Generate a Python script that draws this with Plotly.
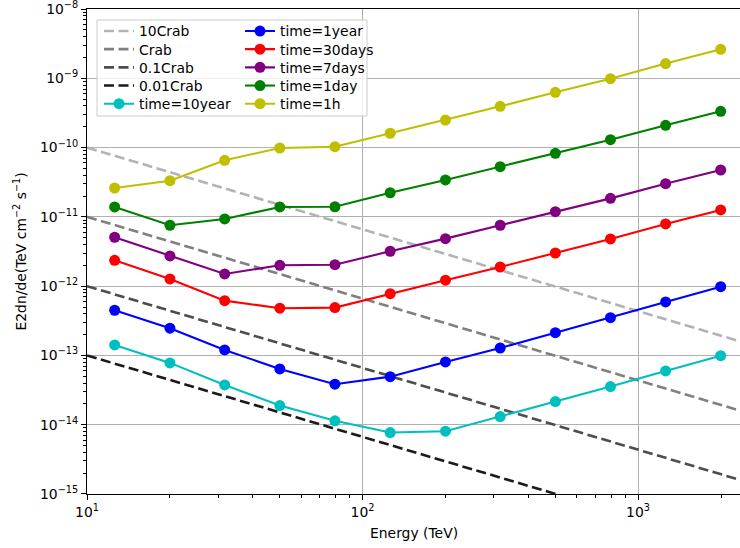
import plotly.graph_objects as go

# ---- data ----
energy = [12.6, 20.0, 31.6, 50.1, 79.4, 126, 200, 316, 501, 794, 1259, 1995]

sens_10year = [1.42e-13, 7.8e-14, 3.75e-14, 1.89e-14, 1.14e-14, 7.7e-15, 8.05e-15,
               1.31e-14, 2.16e-14, 3.55e-14, 5.97e-14, 9.93e-14]
sens_1year = [4.49e-13, 2.47e-13, 1.20e-13, 6.38e-14, 3.84e-14, 4.94e-14, 8.05e-14,
              1.28e-13, 2.13e-13, 3.51e-13, 5.92e-13, 9.84e-13]
sens_30days = [2.36e-12, 1.27e-12, 6.18e-13, 4.80e-13, 4.90e-13, 7.80e-13, 1.22e-12,
               1.89e-12, 3.01e-12, 4.80e-12, 7.91e-12, 1.26e-11]
sens_7days = [5.08e-12, 2.73e-12, 1.50e-12, 2.00e-12, 2.04e-12, 3.19e-12, 4.85e-12,
              7.57e-12, 1.19e-11, 1.85e-11, 3.01e-11, 4.75e-11]
sens_1day = [1.39e-11, 7.57e-12, 9.33e-12, 1.39e-11, 1.40e-11, 2.23e-11, 3.41e-11,
             5.30e-11, 8.27e-11, 1.30e-10, 2.10e-10, 3.34e-10]
sens_1h = [2.61e-11, 3.33e-11, 6.56e-11, 9.87e-11, 1.03e-10, 1.61e-10, 2.50e-10,
           3.94e-10, 6.28e-10, 9.87e-10, 1.63e-9, 2.62e-9]

# Crab reference lines (straight power laws in log-log): start and end points
crab_names = ["10Crab", "Crab", "0.1Crab", "0.01Crab"]
crab_start_energy = [10.0, 10.0, 10.0, 10.0]
crab_start_flux = [1.0e-10, 1.0e-11, 1.0e-12, 1.0e-13]
crab_end_energy = [2500.0, 2500.0, 2500.0, 503.0]
crab_end_flux = [1.48e-13, 1.48e-14, 1.48e-15, 1.0e-15]
crab_colors = ["#b3b3b3", "#808080", "#4d4d4d", "#1a1a1a"]

series_names = ["time=10year", "time=1year", "time=30days", "time=7days", "time=1day", "time=1h"]
series_values = [sens_10year, sens_1year, sens_30days, sens_7days, sens_1day, sens_1h]
series_colors = ["#00bfbf", "#0000ff", "#ff0000", "#800080", "#008000", "#bfbf00"]

y_tick_vals = [1e-15, 1e-14, 1e-13, 1e-12, 1e-11, 1e-10, 1e-9, 1e-8]
y_tick_text = ["10<sup>−15</sup>", "10<sup>−14</sup>", "10<sup>−13</sup>", "10<sup>−12</sup>",
               "10<sup>−11</sup>", "10<sup>−10</sup>", "10<sup>−9</sup>", "10<sup>−8</sup>"]
x_tick_vals = [10, 100, 1000]
x_tick_text = ["10<sup>1</sup>", "10<sup>2</sup>", "10<sup>3</sup>"]

x_minor_vals = [m * d for d in (10, 100, 1000) for m in range(2, 10) if m * d < 2400]
y_minor_vals = [m * 10.0 ** e for e in range(-15, -8) for m in range(2, 10)]

FONT = "DejaVu Sans"
FS = 13.9

W0, PW, T0, PH = 87, 653, 9, 485
def px(x):
    return (x - W0) / PW
def py(y):
    return 1 - (y - T0) / PH

# legend slots: column x (px) and row centre y (px)
col_x = [99, 240]
row_y = [31.5, 49.6, 67.8, 86.0, 104.2]

fig = go.Figure()
legend_layout = {}
legend_common = dict(bgcolor="rgba(0,0,0,0)", borderwidth=0, xanchor="left", yanchor="middle",
                     font=dict(family=FONT, size=FS, color="black"), tracegroupgap=0,
                     itemwidth=30, visible=True)

slot = 0
def legend_key(k):
    return "legend" if k == 0 else f"legend{k + 1}"

for name, e0, f0, e1, f1, color in zip(crab_names, crab_start_energy, crab_start_flux,
                                       crab_end_energy, crab_end_flux, crab_colors):
    key = legend_key(slot)
    fig.add_trace(go.Scatter(
        x=[e0, e1], y=[f0, f1], mode="lines", name=name, showlegend=True,
        line=dict(color=color, width=2.6, dash="10px,4.5px"), legend=key))
    legend_layout[key] = dict(**legend_common, x=px(col_x[slot // 5]), y=py(row_y[slot % 5]))
    slot += 1

for name, vals, color in zip(series_names, series_values, series_colors):
    key = legend_key(slot)
    fig.add_trace(go.Scatter(
        x=energy, y=vals, mode="lines+markers", name=name, showlegend=True,
        line=dict(color=color, width=2.1),
        marker=dict(color=color, size=11, symbol="circle", line=dict(width=0)),
        legend=key))
    legend_layout[key] = dict(**legend_common, x=px(col_x[slot // 5]), y=py(row_y[slot % 5]))
    slot += 1

axis_common = dict(
    type="log", showline=True, linecolor="black", linewidth=1.1, automargin=False,
    ticks="outside", ticklen=5, tickwidth=1.1, tickcolor="black",
    showgrid=True, gridcolor="#b0b0b0", gridwidth=1.1, zeroline=False,
    ticklabeloverflow="allow",
    tickfont=dict(family=FONT, size=FS, color="black"),
)

fig.update_xaxes(**axis_common, range=[1, 3.370], tickmode="array",
                 tickvals=x_tick_vals, ticktext=x_tick_text, mirror=True,
                 minor=dict(tickmode="array", tickvals=x_minor_vals, ticks="outside",
                            ticklen=2.8, tickwidth=0.8, tickcolor="black", showgrid=False))
fig.update_yaxes(**axis_common, range=[-15.0002, -7.9995], tickmode="array",
                 tickvals=y_tick_vals, ticktext=y_tick_text, mirror=False,
                 minor=dict(tickmode="array", tickvals=y_minor_vals, ticks="outside",
                            ticklen=2.8, tickwidth=0.8, tickcolor="black", showgrid=False))

fig.add_shape(type="rect", xref="paper", yref="paper",
              x0=px(97), x1=px(367), y0=py(116), y1=py(20),
              line=dict(color="#cccccc", width=1), fillcolor="rgba(255,255,255,0.8)",
              layer="above")

fig.add_annotation(text="Energy (TeV)", xref="paper", yref="paper",
                   x=0.5, y=py(533), xanchor="center", yanchor="middle", showarrow=False,
                   font=dict(family=FONT, size=FS, color="black"))
fig.add_annotation(text="E2dn/de(TeV cm<sup>−2</sup> s<sup>−1</sup>)", xref="paper", yref="paper",
                   x=px(20), y=0.5, xanchor="center", yanchor="middle", showarrow=False,
                   textangle=-90, font=dict(family=FONT, size=FS, color="black"))

fig.update_layout(
    width=740, height=548,
    margin=dict(l=87, r=0, t=9, b=54),
    paper_bgcolor="white", plot_bgcolor="white",
    showlegend=True,
    font=dict(family=FONT, size=FS, color="black"),
    **legend_layout,
)

fig.write_html("out.html", config={"displayModeBar": False},
               post_script="document.body.style.margin='0';")
